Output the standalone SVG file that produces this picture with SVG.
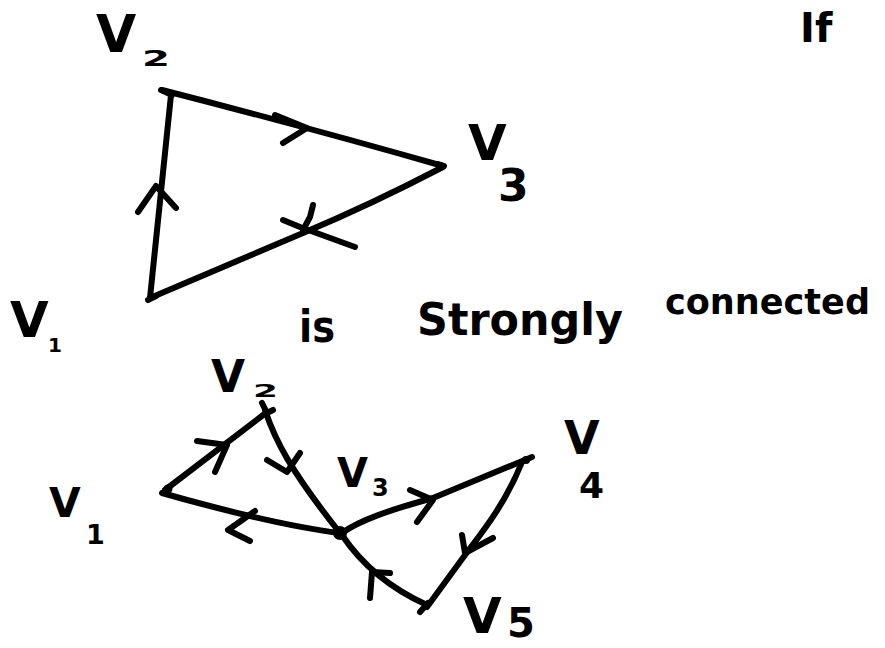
<svg xmlns="http://www.w3.org/2000/svg" width="885" height="648" viewBox="0 0 885 648">
<style>
.e{fill:none;stroke:#000;stroke-width:6;stroke-linecap:round;stroke-linejoin:round}
.d{fill:#000}
.t{font-family:"DejaVu Sans",sans-serif;font-weight:bold;fill:#000}
</style>
<rect width="885" height="648" fill="#fff"/>
<!-- Graph 1 nodes -->
<g id="g1-v1"><path class="e" d="M148,300 L156,296"/><text class="t"><tspan x="10" y="337" font-size="50">V</tspan><tspan x="48" y="352" font-size="20">1</tspan></text></g>
<g id="g1-v2"><path class="e" d="M161,90 L172,95"/><text class="t"><tspan x="96" y="52" font-size="52">V</tspan><tspan x="142" y="66" font-size="22" textLength="28" lengthAdjust="spacingAndGlyphs">2</tspan></text></g>
<g id="g1-v3"><path class="e" d="M438,164 L444,166"/><text class="t"><tspan x="468" y="160" font-size="50">V</tspan><tspan x="498" y="201" font-size="44">3</tspan></text></g>
<!-- Graph 2 nodes -->
<g id="g2-v1"><circle class="d" cx="168" cy="489" r="4.5"/><text class="t"><tspan x="49" y="517" font-size="41">V</tspan><tspan x="86" y="544" font-size="27">1</tspan></text></g>
<g id="g2-v2"><path class="e" d="M262,403 L267,413 L273,410"/><text class="t"><tspan x="211" y="392" font-size="44">V</tspan><tspan x="253" y="397" font-size="18" textLength="25" lengthAdjust="spacingAndGlyphs">2</tspan></text></g>
<g id="g2-v3"><circle class="d" cx="340" cy="533" r="7"/><text class="t"><tspan x="337" y="487" font-size="40">V</tspan><tspan x="372" y="496" font-size="24">3</tspan></text></g>
<g id="g2-v4"><circle class="d" cx="526" cy="460" r="4"/><text class="t"><tspan x="564" y="454" font-size="46">V</tspan><tspan x="579" y="498" font-size="36">4</tspan></text></g>
<g id="g2-v5"><path class="e" d="M420,612 L428,603"/><text class="t"><tspan x="463" y="633" font-size="50">V</tspan><tspan x="507" y="637" font-size="40">5</tspan></text></g>
<!-- Texts -->
<text class="t" font-size="40" x="800" y="42">If</text>
<text class="t"><tspan x="299" y="342" font-size="45" textLength="36" lengthAdjust="spacingAndGlyphs">is</tspan><tspan x="417" y="335" font-size="45" textLength="206" lengthAdjust="spacingAndGlyphs">Strongly</tspan></text>
<text class="t" x="665" y="314" font-size="36" textLength="205" lengthAdjust="spacingAndGlyphs">connected</text>
<!-- Connectors -->
<g id="connectors">
<path class="e" d="M150,298 L171,95"/>
<path class="e" d="M138,212 L156,186 L176,208"/>
<path class="e" d="M162,90 Q310,128 443,166"/>
<path class="e" d="M275,115 L307,128 L283,143"/>
<path class="e" d="M443,167 Q370,205 303,233 L150,298"/>
<path class="e" d="M313,205 L310,217 L303,230"/>
<path class="e" d="M283,220 L300,227 L355,247"/>
<path class="e" d="M165,490 L267,412"/>
<path class="e" d="M197,441 L227,445 L215,472"/>
<path class="e" d="M265,410 C275,440 290,470 340,533"/>
<path class="e" d="M267,460 L287,472 L300,453"/>
<path class="e" d="M340,533 C300,528 250,518 162,493"/>
<path class="e" d="M255,511 L228,530 L250,541"/>
<path class="e" d="M342,533 C360,520 390,510 433,498 L532,457"/>
<path class="e" d="M410,490 L433,500 L417,522"/>
<path class="e" d="M522,462 C505,505 480,535 465,555 L427,607"/>
<path class="e" d="M462,535 L465,553 L493,538"/>
<path class="e" d="M427,605 Q372,580 342,535"/>
<path class="e" d="M370,598 L372,572 L390,573"/>
</g>
</svg>
